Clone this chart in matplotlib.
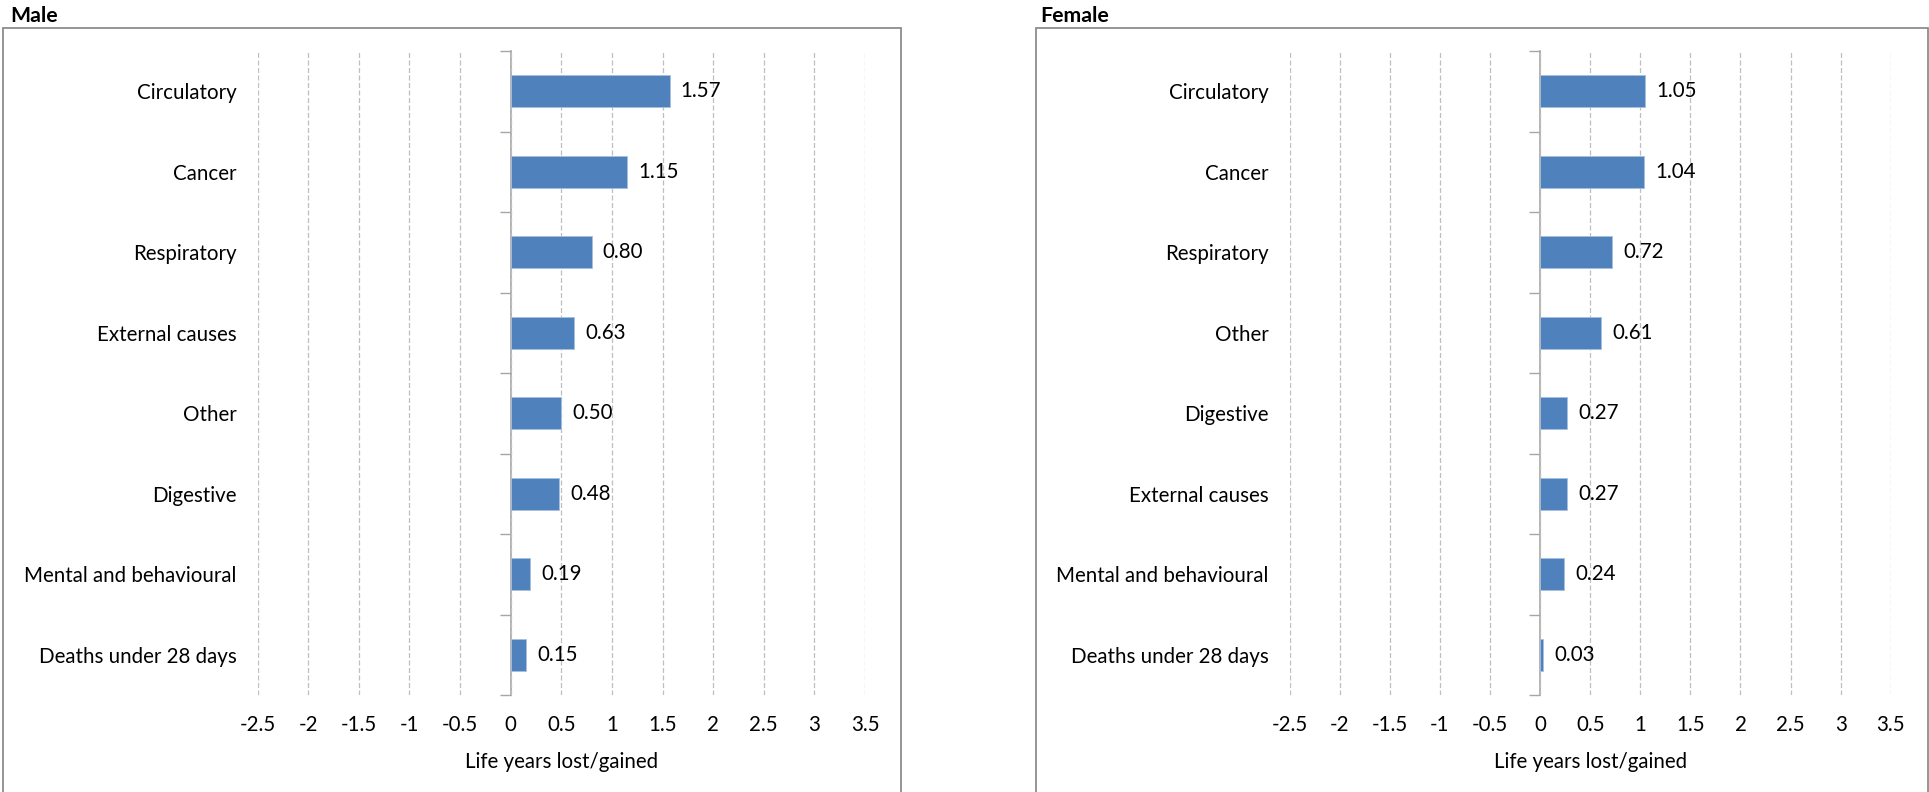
import matplotlib
matplotlib.use("Agg")
import matplotlib.pyplot as plt
from matplotlib.patches import Rectangle

plt.rcParams['font.family'] = ['Lato', 'DejaVu Sans']
plt.rcParams['axes.unicode_minus'] = False

# data
male_cats = ["Circulatory", "Cancer", "Respiratory", "External causes", "Other",
             "Digestive", "Mental and behavioural", "Deaths under 28 days"]
male_vals = [1.57, 1.15, 0.80, 0.63, 0.50, 0.48, 0.19, 0.15]

female_cats = ["Circulatory", "Cancer", "Respiratory", "Other", "Digestive",
               "External causes", "Mental and behavioural", "Deaths under 28 days"]
female_vals = [1.05, 1.04, 0.72, 0.61, 0.27, 0.27, 0.24, 0.03]

x_ticks = [-2.5, -2, -1.5, -1, -0.5, 0, 0.5, 1, 1.5, 2, 2.5, 3, 3.5]
x_tick_labels = ["-2.5", "-2", "-1.5", "-1", "-0.5", "0", "0.5", "1", "1.5", "2", "2.5", "3", "3.5"]
x_label = "Life years lost/gained"

BAR = "#4F81BD"
GRID = "#BFBFBF"
AXIS = "#A6A6A6"
FS = 14.8

W, H = 1929, 792
fig = plt.figure(figsize=(W / 100, H / 100), dpi=100)


def panel(rect, cats, vals):
    ax = fig.add_axes(rect)
    pos = list(range(len(cats)))
    bars = ax.barh(pos, vals, height=0.4, color=BAR, edgecolor="#A7C0DE", linewidth=0.6, zorder=3)
    ax.bar_label(bars, labels=[f"{v:.2f}" for v in vals], padding=8, fontsize=FS, color="black")
    ax.set_ylim(len(cats) - 0.5, -0.5)
    ax.set_xlim(x_ticks[0], x_ticks[-1])
    ax.set_yticks(pos)
    ax.set_yticklabels(cats, fontsize=FS)
    ax.tick_params(axis="y", length=0, pad=15)
    ax.set_xticks(x_ticks)
    ax.set_xticklabels(x_tick_labels, fontsize=FS)
    ax.tick_params(axis="x", length=0, pad=14.5)
    ax.set_xlabel(x_label, fontsize=FS, labelpad=12)
    for s in ax.spines.values():
        s.set_visible(False)
    ax.grid(axis="x", linestyle=(0, (4, 2)), color=GRID, linewidth=0.9, zorder=0)
    # vertical zero axis with category boundary ticks
    zero_frac = (0 - x_ticks[0]) / (x_ticks[-1] - x_ticks[0])
    sec = ax.secondary_yaxis(zero_frac)
    sec.set_yticks([p - 0.5 for p in pos] + [len(cats) - 0.5])
    sec.set_yticklabels([])
    sec.tick_params(length=8, width=1, color=AXIS)
    sec.spines["left"].set_color(AXIS)
    sec.spines["left"].set_linewidth(1.2)
    return ax


y0 = 1 - 695 / H
hgt = (695 - 51) / H
panel([257.6 / W, y0, (865 - 257.6) / W, hgt], male_cats, male_vals)
panel([1289.7 / W, y0, (1890.7 - 1289.7) / W, hgt], female_cats, female_vals)

# chart frames
for x_left, x_right in [(3.4, 901), (1036, 1927.5)]:
    fig.add_artist(Rectangle((x_left / W, -0.1), (x_right - x_left) / W, 1 - 28 / H + 0.1,
                             transform=fig.transFigure, fill=False, edgecolor="#8C8C8C",
                             linewidth=1.3))

fig.text(10 / W, 1 - 16 / H, "Male", fontsize=FS + 0.5, fontweight="bold", va="center", ha="left")
fig.text(1040 / W, 1 - 16 / H, "Female", fontsize=FS + 0.5, fontweight="bold", va="center", ha="left")

fig.savefig("out.png", dpi=100)
